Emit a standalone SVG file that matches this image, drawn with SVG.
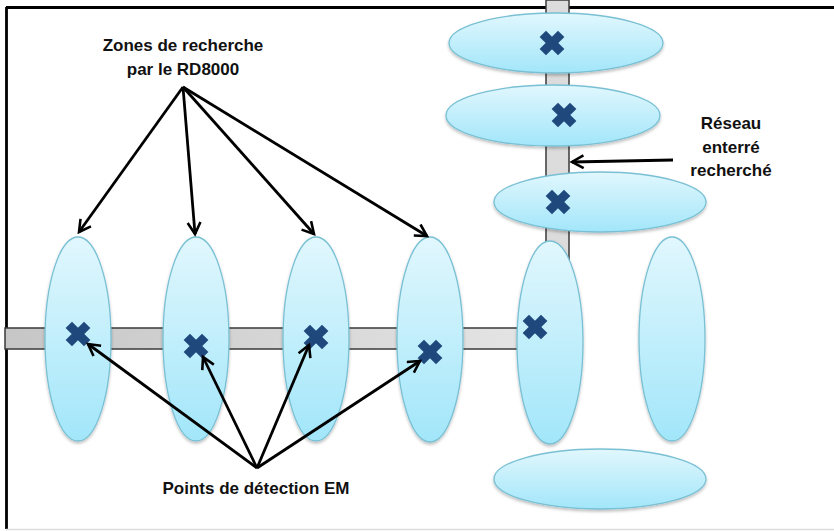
<svg xmlns="http://www.w3.org/2000/svg" width="834" height="531" viewBox="0 0 834 531">
<style>
.zone{fill:url(#zg);stroke:#79c0d4;stroke-width:1.3;filter:url(#sh)}
.pipe{stroke:#3a3a3a;stroke-width:1.5}
.x{fill:#1f497d}
.arr{stroke:#000;stroke-width:2.8;fill:none;marker-end:url(#ah)}
.lbl{font-family:"Liberation Sans",Arial,sans-serif;font-weight:bold;font-size:17px;fill:#111;text-anchor:middle}
</style>
<defs>
<linearGradient id="zg" x1="0" y1="0" x2="0" y2="1">
<stop offset="0" stop-color="#e1f7fd"/>
<stop offset="1" stop-color="#a2e6fa"/>
</linearGradient>
<linearGradient id="hp" x1="0" y1="0" x2="1" y2="0">
<stop offset="0" stop-color="#c6c6c6"/>
<stop offset="1" stop-color="#e4e4e4"/>
</linearGradient>
<filter id="sh" x="-20%" y="-20%" width="140%" height="140%">
<feDropShadow dx="0" dy="2" stdDeviation="1.5" flood-color="#000" flood-opacity="0.25"/>
</filter>
<marker id="ah" viewBox="0 0 12 12" refX="10" refY="6" markerWidth="5.5" markerHeight="5.5" orient="auto" markerUnits="strokeWidth">
<path d="M1,1 L10,6 L1,11" fill="none" stroke="#000" stroke-width="2"/>
</marker>
<g id="cross">
<rect x="-13" y="-4.5" width="26" height="9" transform="rotate(45)"/>
<rect x="-13" y="-4.5" width="26" height="9" transform="rotate(-45)"/>
</g>
</defs>
<rect width="834" height="531" fill="#fff"/>
<g id="frame">
<line x1="6" y1="7.5" x2="834" y2="7.5" stroke="#000" stroke-width="2.8"/>
<line x1="6.5" y1="7" x2="6.5" y2="529" stroke="#000" stroke-width="2.8"/>
<line x1="6" y1="529.5" x2="834" y2="529.5" stroke="#ddd" stroke-width="1.5"/>
</g>
<g id="pipes">
<rect class="pipe" x="5" y="328" width="520" height="21" fill="url(#hp)"/>
<rect class="pipe" x="546" y="0" width="23" height="345" fill="#dcdcdc"/>
</g>
<g id="zone1"><ellipse class="zone" cx="78" cy="339" rx="33" ry="102"/><use href="#cross" class="x" x="78" y="334"/></g>
<g id="zone2"><ellipse class="zone" cx="196" cy="339" rx="33" ry="102"/><use href="#cross" class="x" x="196" y="346"/></g>
<g id="zone3"><ellipse class="zone" cx="316" cy="339" rx="33" ry="102"/><use href="#cross" class="x" x="316" y="337"/></g>
<g id="zone4"><ellipse class="zone" cx="430" cy="339.5" rx="33" ry="102.5"/><use href="#cross" class="x" x="430" y="352"/></g>
<g id="zone5"><ellipse class="zone" cx="550" cy="342.5" rx="33" ry="101.5"/><use href="#cross" class="x" x="535" y="327"/></g>
<g id="zone6"><ellipse class="zone" cx="672" cy="339" rx="33" ry="102"/></g>
<g id="zone7"><ellipse class="zone" cx="600" cy="479" rx="106" ry="30"/></g>
<g id="zone8"><ellipse class="zone" cx="556" cy="43" rx="107" ry="30"/><use href="#cross" class="x" x="552" y="43"/></g>
<g id="zone9"><ellipse class="zone" cx="553" cy="115.5" rx="107" ry="30.5"/><use href="#cross" class="x" x="564" y="115"/></g>
<g id="zone10"><ellipse class="zone" cx="600" cy="202" rx="106" ry="30"/><use href="#cross" class="x" x="558" y="202"/></g>
<g id="connectors">
<line class="arr" x1="183" y1="87" x2="79" y2="232"/>
<line class="arr" x1="183" y1="87" x2="195" y2="234"/>
<line class="arr" x1="183" y1="87" x2="314" y2="234"/>
<line class="arr" x1="183" y1="87" x2="427" y2="236"/>
<line class="arr" x1="257" y1="468" x2="88" y2="344"/>
<line class="arr" x1="257" y1="468" x2="203" y2="357"/>
<line class="arr" x1="257" y1="468" x2="309" y2="345"/>
<line class="arr" x1="257" y1="468" x2="420" y2="361"/>
<line class="arr" x1="673" y1="160" x2="572" y2="162"/>
</g>
<g id="labels">
<text class="lbl" x="183" y="51">Zones de recherche</text>
<text class="lbl" x="183" y="75">par le RD8000</text>
<text class="lbl" x="731" y="129">Réseau</text>
<text class="lbl" x="731" y="153">enterré</text>
<text class="lbl" x="731" y="176">recherché</text>
<text class="lbl" x="256" y="494">Points de détection EM</text>
</g>
</svg>
